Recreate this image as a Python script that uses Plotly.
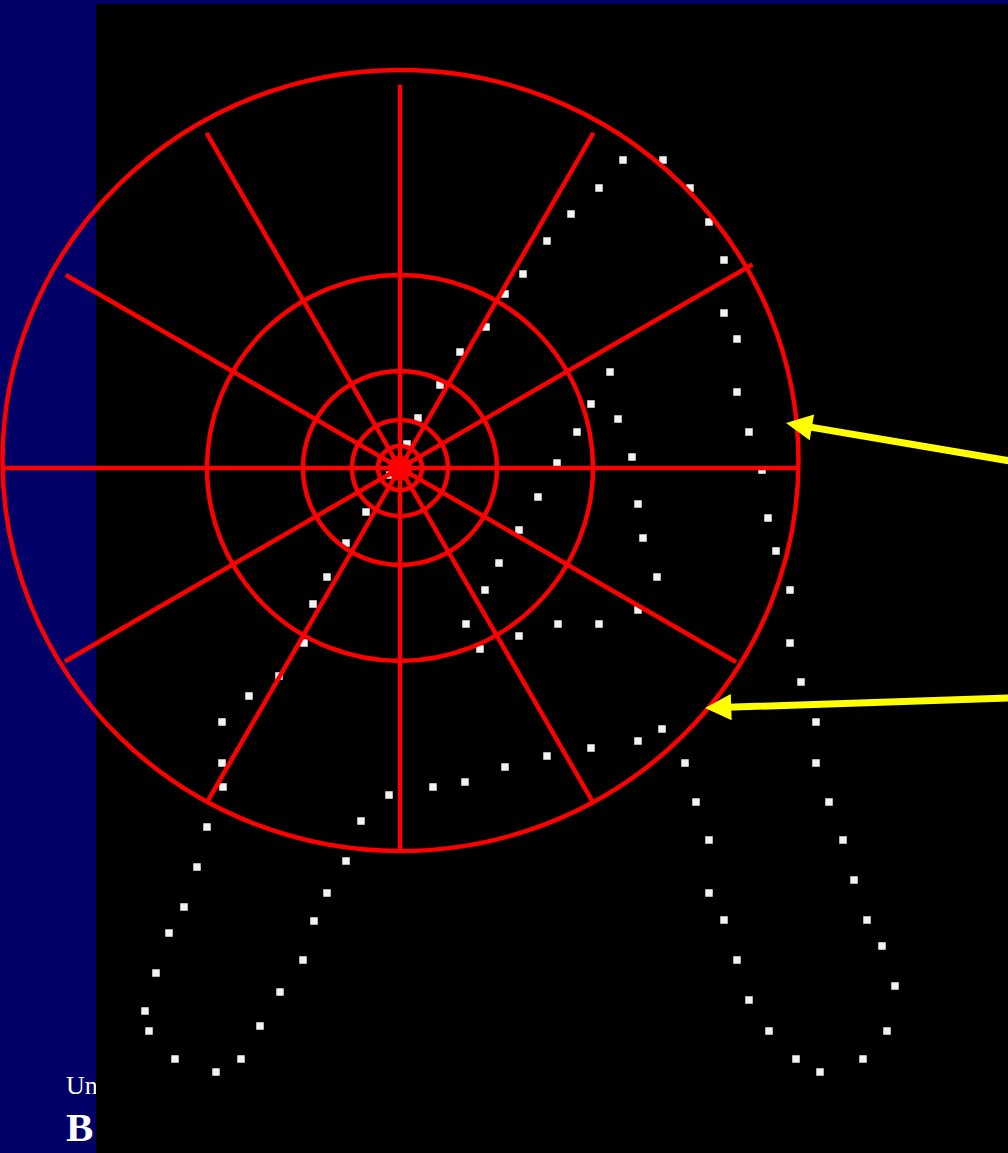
import math
import plotly.graph_objects as go

# ---------------- data ----------------
# sample points of the letter "A" (pixel coordinates of the image)
dot_x = [623, 663, 599, 690, 571, 709, 547, 724, 523, 505, 724, 737, 486, 460, 610, 737, 440, 591,
         418, 618, 749, 577, 407, 632, 557, 762,
         390, 366, 346, 327, 313, 304, 279, 249, 222, 222, 223, 207, 197, 184, 169, 156, 145, 149,
         175, 216, 241, 260, 280, 303, 314, 327, 346, 361, 389, 433, 465, 505, 547, 591, 638, 662,
         685, 696, 709, 709, 724, 737, 749, 769, 796, 820, 863, 887, 895, 882, 867, 854, 843, 829,
         816, 816, 801, 790, 790, 776, 768,
         538, 638, 643, 519, 499, 657, 485, 638, 466, 558, 599, 519, 480]
dot_y = [160, 160, 188, 188, 214, 222, 241, 260, 274, 294, 313, 339, 327, 352, 372, 392, 385, 404,
         418, 419, 432, 432, 444, 457, 463, 470,
         475, 512, 543, 577, 604, 643, 676, 696, 722, 763, 787, 827, 867, 907, 933, 973, 1011, 1031,
         1059, 1072, 1059, 1026, 992, 960, 921, 893, 861, 821, 795, 787, 782, 767, 756, 748, 741, 729,
         763, 802, 840, 893, 920, 960, 1000, 1031, 1059, 1072, 1059, 1031, 986, 946, 920, 880, 840, 802,
         763, 722, 682, 643, 590, 551, 518,
         497, 504, 538, 530, 563, 577, 590, 610, 624, 624, 624, 636, 649]

# log-polar histogram grid
ring_radii = [193, 97, 48, 22, 10]
spoke_angles = [0, 30, 60, 90, 120, 150, 180, 210, 240, 270, 300, 330]
spoke_lengths = [400, 407, 387, 383, 387, 386, 398, 387, 386, 384, 386, 388]

# slide footer text (mostly hidden behind the image)
footer_line1 = "Un"
footer_line2 = "B"

# ---------------- layout constants ----------------
W, H = 1008, 1153
CX, CY = 400, 468
OUTER = dict(x0=2.5, x1=798.5, y0=70, y1=851)
RED = "#FF0000"
YELLOW = "#FFFF00"
NAVY = "#000066"

fig = go.Figure()

# white dots
fig.add_trace(go.Scatter(
    x=dot_x, y=dot_y, mode="markers", xaxis="x", yaxis="y",
    marker=dict(symbol="square", size=7.5, color="#F2F2F2", line=dict(width=0)),
    hoverinfo="skip"))

# footer text, clipped at the image edge
fig.add_trace(go.Scatter(
    x=[66], y=[1087], mode="text", xaxis="x2", yaxis="y",
    text=[footer_line1], textposition="middle right",
    textfont=dict(family="Liberation Serif", size=26, color="white"),
    cliponaxis=True, hoverinfo="skip"))
fig.add_trace(go.Scatter(
    x=[66], y=[1131], mode="text", xaxis="x2", yaxis="y",
    text=[footer_line2], textposition="middle right",
    textfont=dict(family="Liberation Serif", size=41, color="white", weight="bold"),
    cliponaxis=True, hoverinfo="skip"))

shapes = []
# black image area
shapes.append(dict(type="rect", xref="x", yref="y", x0=96, x1=W, y0=4, y1=H,
                   fillcolor="black", line=dict(width=0), layer="below"))
# outer circle
shapes.append(dict(type="circle", xref="x", yref="y", **OUTER,
                   line=dict(color=RED, width=4.5), layer="above"))
# inner rings
for r in ring_radii:
    shapes.append(dict(type="circle", xref="x", yref="y",
                       x0=CX - r, x1=CX + r, y0=CY - r, y1=CY + r,
                       line=dict(color=RED, width=4.5), layer="above"))
# spokes
for a, L in zip(spoke_angles, spoke_lengths):
    t = math.radians(a)
    shapes.append(dict(type="line", xref="x", yref="y",
                       x0=CX, y0=CY, x1=CX + L * math.cos(t), y1=CY - L * math.sin(t),
                       line=dict(color=RED, width=4.5), layer="above"))

annotations = [
    dict(x=786, y=423, ax=1010, ay=461, xref="x", yref="y", axref="x", ayref="y",
         text="", showarrow=True, arrowhead=2, arrowwidth=7, arrowsize=0.75,
         arrowcolor=YELLOW, standoff=0),
    dict(x=705, y=708, ax=1010, ay=698, xref="x", yref="y", axref="x", ayref="y",
         text="", showarrow=True, arrowhead=2, arrowwidth=7, arrowsize=0.75,
         arrowcolor=YELLOW, standoff=0),
]

fig.update_layout(
    width=W, height=H, margin=dict(l=0, r=0, t=0, b=0),
    paper_bgcolor=NAVY, plot_bgcolor=NAVY, showlegend=False,
    xaxis=dict(range=[0, W], visible=False, domain=[0, 1], fixedrange=True),
    xaxis2=dict(range=[0, 96], visible=False, domain=[0, 96 / W], anchor="y", fixedrange=True),
    yaxis=dict(range=[H, 0], visible=False, fixedrange=True),
    shapes=shapes, annotations=annotations,
)

fig.write_html("out.html", config={"displayModeBar": False},
               post_script="document.body.style.margin='0';document.body.style.overflow='hidden';")
